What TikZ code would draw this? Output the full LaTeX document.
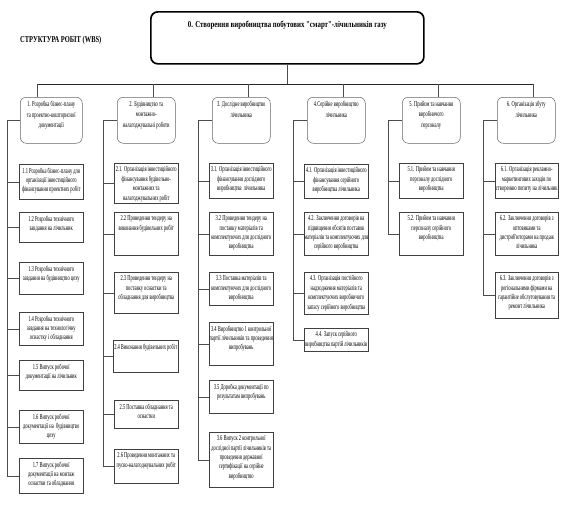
\documentclass[tikz,border=0pt]{standalone}
\usepackage{fontspec}
\setmainfont{Liberation Serif}
\newfontfamily\boxfont[FakeStretch=0.6]{Liberation Serif}
\newfontfamily\titlefont[FakeStretch=0.76]{Liberation Serif}
\newfontfamily\wbsfont[FakeStretch=0.72]{Liberation Serif}
\usetikzlibrary{shadows}
\tikzset{
  conn/.style={draw=black!70, line width=0.5pt},
  barline/.style={draw=black!85, line width=0.9pt},
  cboxst/.style={draw=black!75, line width=0.5pt, fill=white, inner sep=0pt,
     drop shadow={shadow xshift=0.7pt, shadow yshift=-0.7pt, fill=black!55, opacity=1}},
  hboxst/.style={draw=black!60, line width=0.5pt, fill=white, rounded corners=6pt, inner sep=0pt},
  ctext/.style={align=center, inner sep=0pt, font=\boxfont\fontsize{7.5}{9.4}\selectfont},
  htext/.style={align=center, inner sep=0pt, font=\boxfont\fontsize{7.5}{10.6}\selectfont},
}
\newcommand\cbx[6]{%
  \node[cboxst, anchor=north west, minimum width={#4-#2}, minimum height={#5-#3}] (#1) at (#2,#3) {};
  \node[ctext, anchor=north] (#1t) at ([yshift=-3.5pt]#1.north) {#6};
}
\newcommand\hbx[6]{%
  \node[hboxst, anchor=north west, minimum width={#4-#2}, minimum height={#5-#3}] (#1) at (#2,#3) {};
  \node[htext, anchor=north] (#1t) at ([yshift=-4pt]#1.north) {#6};
}
\begin{document}
\begin{tikzpicture}[x=1pt,y=-1pt]
\useasboundingbox[fill=white] (0,0) rectangle (571,509);

% title
\node[draw=black, line width=1.7pt, rounded corners=7pt, minimum width=273, minimum height=52, anchor=north west, inner sep=0pt] (top) at (150,11) {};
\node[anchor=north, inner sep=0pt, font=\titlefont\bfseries\fontsize{9}{11}\selectfont] (toptext) at ([yshift=-10pt]top.north) {0. Створення виробництва побутових "смарт"-лічильників газу};
\node[anchor=west, inner sep=0pt, font=\wbsfont\bfseries\fontsize{9}{11}\selectfont] (wbs) at (20,40) {СТРУКТУРА РОБІТ (WBS)};

% header boxes
\hbx{h1}{20}{97}{82}{143}{1. Розробка бізнес-плану\\та проектно-кошторисної\\документації}
\hbx{h2}{117}{97}{175}{143}{2. Будівництво та\\монтажно-\\налагоджувальні роботи}
\hbx{h3}{212}{97}{270}{143}{3. Дослідне виробництво\\лічильника}
\hbx{h4}{307}{97}{365}{143}{4.Серійне виробництво\\лічильника}
\hbx{h5}{402}{97}{460}{143}{5. Прийом та навчання\\виробничого\\персоналу}
\hbx{h6}{497}{97}{555}{143}{6. Організація збуту\\лічильника}

% column 1
\cbx{c11}{19}{164}{83}{199}{1.1 Розробка бізнес-плану для\\організації інвестиційного\\фінансування проектних робіт}
\cbx{c12}{19}{212}{83}{242}{1.2 Розробка технічного\\завдання на лічильник}
\cbx{c13}{19}{262}{83}{294}{1.3 Розробка технічного\\завдання на будівництво цеху}
\cbx{c14}{19}{312}{83}{345}{1.4 Розробка технічного\\завдання на технологічну\\оснастку і обладнання}
\cbx{c15}{19}{360}{83}{390}{1.5 Випуск робочої\\документації на лічильник}
\cbx{c16}{19}{410}{83}{443}{1.6 Випуск робочої\\документації на\ \ будівництво\\цеху}
\cbx{c17}{19}{458}{83}{493}{1.7 Випуск робочої\\документації на монтаж\\оснастки та обладнання}

% column 2
\cbx{c21}{114}{163}{178}{203}{2.1. Організація інвестиційного\\фінансування будівельно-\\монтажних та\\налагоджувальних робіт}
\cbx{c22}{114}{212}{178}{255}{2.2 Проведення тендеру на\\виконання будівельних робіт}
\cbx{c23}{114}{272}{178}{313}{2.3 Проведення тендеру на\\поставку оснастки та\\обладнання для виробництва}
\cbx{c24}{113}{340}{178}{372}{2.4 Виконання будівельних робіт}
\cbx{c25}{114}{400}{178}{428}{2.5 Поставка обладнання та\\оснастки}
\cbx{c26}{114}{449}{178}{483}{2.6 Проведення монтажних та\\пуско-налагоджувальних робіт}

% column 3
\cbx{c31}{209}{163}{273}{198}{3.1. Організація інвестиційного\\фінансування дослідного\\виробництва\ \ лічильника}
\cbx{c32}{209}{212}{273}{255}{3.2 Проведення тендеру на\\поставку матеріалів та\\комплектуючих для дослідного\\виробництва}
\cbx{c33}{209}{272}{273}{305}{3.3 Поставка матеріалів та\\комплектуючих для дослідного\\виробництва}
\cbx{c34}{209}{322}{273}{365}{3.4 Виробництво 1 контрольної\\партії лічильників та проведення\\випробувань}
\cbx{c35}{209}{380}{273}{413}{3.5 Доробка документації по\\результатам випробувань}
\cbx{c36}{209}{432}{273}{487}{3.6 Випуск 2 контрольної\\дослідної партії лічильників та\\проведення державної\\сертифікації на серійне\\виробництво}

% column 4
\cbx{c41}{304}{164}{368}{198}{4.1. Організація інвестиційного\\фінансування серійного\\виробництва лічильника}
\cbx{c42}{304}{212}{368}{255}{4.2. Заключення договорів на\\підвищення обсягів поставок\\матеріалів та комплектуючих для\\серійного виробництва}
\cbx{c43}{304}{272}{368}{314}{4.3. Організація постійного\\надходження матеріалів та\\комплектуючих виробничого\\запасу серійного виробництва}
\cbx{c44}{304}{328}{368}{351}{4.4. Запуск серійного\\виробництва партій лічильників}

% column 5
\cbx{c51}{399}{163}{463}{198}{5.1. Прийом та навчання\\персоналу дослідного\\виробництва}
\cbx{c52}{399}{212}{463}{255}{5.2. Прийом та навчання\\персоналу серійного\\виробництва}

% column 6
\cbx{c61}{495}{163}{558}{198}{6.1. Організація рекламно-\\маркетингових заходів по\\створенню попиту на лічильник}
\cbx{c62}{495}{212}{558}{255}{6.2. Заключення договорів з\\оптовиками та\\дистриб'юторами на продаж\\лічильника}
\cbx{c63}{495}{272}{558}{318}{6.3. Заключення договорів з\\регіональними фірмами на\\гарантійне обслуговування та\\ремонт лічильника}

% bar and drops
\coordinate (d1) at (37,84);
\coordinate (d2) at (153,84);
\coordinate (d3) at (248,84);
\coordinate (d4) at (343,84);
\coordinate (d5) at (438,84);
\coordinate (d6) at (533,84);
\draw[conn] (top.south) -- (top.south |- d1);
\draw[barline] (d1) -- (d6);
\foreach \i in {1,...,6} { \draw[conn] (d\i) -- (d\i |- h\i.north); }

% spines
\coordinate (s1) at (7,0);
\coordinate (s2) at (103,0);
\coordinate (s3) at (198,0);
\coordinate (s4) at (293,0);
\coordinate (s5) at (388,0);
\coordinate (s6) at (483,0);

\draw[conn] (h1.west) -- (h1.west -| s1) -- (c17.west -| s1);
\foreach \j in {1,...,7} { \draw[conn] (c1\j.west -| s1) -- (c1\j.west); }
\draw[conn] (h2.west) -- (h2.west -| s2) -- (c26.west -| s2);
\foreach \j in {1,...,6} { \draw[conn] (c2\j.west -| s2) -- (c2\j.west); }
\draw[conn] (h3.west) -- (h3.west -| s3) -- (c36.west -| s3);
\foreach \j in {1,...,6} { \draw[conn] (c3\j.west -| s3) -- (c3\j.west); }
\draw[conn] (h4.west) -- (h4.west -| s4) -- (c44.west -| s4);
\foreach \j in {1,...,4} { \draw[conn] (c4\j.west -| s4) -- (c4\j.west); }
\draw[conn] (h5.west) -- (h5.west -| s5) -- (c52.west -| s5);
\foreach \j in {1,...,2} { \draw[conn] (c5\j.west -| s5) -- (c5\j.west); }
\draw[conn] (h6.west) -- (h6.west -| s6) -- (c63.west -| s6);
\foreach \j in {1,...,3} { \draw[conn] (c6\j.west -| s6) -- (c6\j.west); }
\end{tikzpicture}
\end{document}
